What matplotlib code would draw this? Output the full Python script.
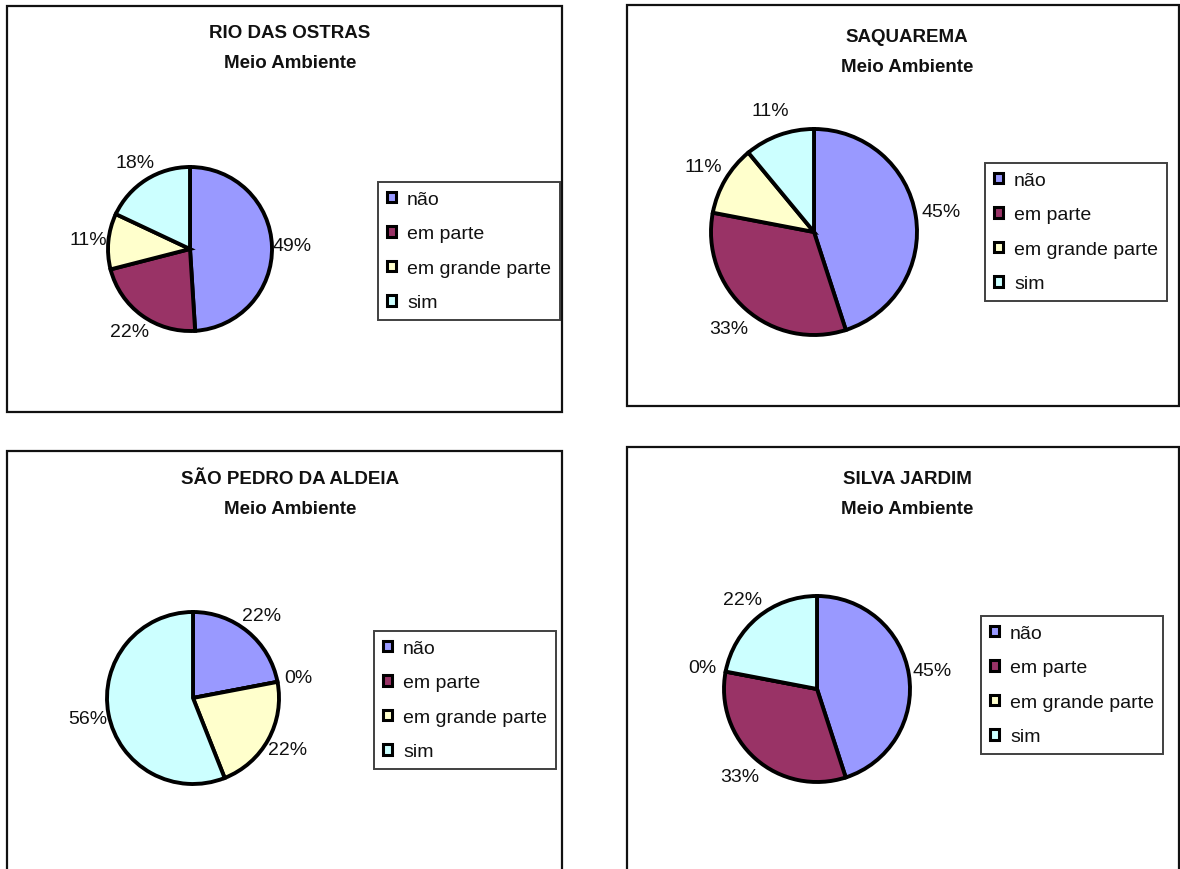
"""Meio Ambiente - quatro municípios, gráficos de pizza no estilo Excel."""
import matplotlib
matplotlib.use("Agg")
import matplotlib.pyplot as plt
import matplotlib.patches as mpatches

W, H = 1180, 870

CATEGORIAS = ["não", "em parte", "em grande parte", "sim"]
CORES = ["#9999FF", "#993366", "#FFFFCC", "#CCFFFF"]

MUNICIPIOS = ["RIO DAS OSTRAS", "SAQUAREMA", "SÃO PEDRO DA ALDEIA", "SILVA JARDIM"]
SUBTITULO = "Meio Ambiente"

RIO_DAS_OSTRAS = [49, 22, 11, 18]
SAQUAREMA = [45, 33, 11, 11]
SAO_PEDRO = [22, 0, 22, 56]
SILVA_JARDIM = [45, 33, 0, 22]

# layout in pixels: panel box, pie center/radius, legend top-left, title x/y
PANEIS = [
    dict(box=(7, 7, 562, 413), pie=(190, 250, 82), leg=(378, 183), tit=(290, 33)),
    dict(box=(627, 6, 1179, 407), pie=(814, 233, 103), leg=(985, 164), tit=(907, 37)),
    dict(box=(7, 452, 562, 880), pie=(193, 699, 86), leg=(374, 632), tit=(290, 480)),
    dict(box=(627, 448, 1179, 880), pie=(817, 690, 93), leg=(981, 617), tit=(907, 480)),
]

C_INK = "#111111"
FONT = ["Liberation Sans", "DejaVu Sans"]

plt.rcParams.update({
    "font.family": FONT,
    "font.size": 14,
    "text.color": C_INK,
})


def fx(x):
    return x / W


def fy(y):
    return 1 - y / H


def draw_panel(fig, nome, valores, lay):
    x0, y0, x1, y1 = lay["box"]
    fig.add_artist(mpatches.Rectangle(
        (fx(x0), fy(y1)), (x1 - x0) / W, (y1 - y0) / H,
        transform=fig.transFigure, fill=False, edgecolor=C_INK,
        linewidth=1.6, zorder=1))

    tx, ty = lay["tit"]
    fig.text(fx(tx), fy(ty), nome, ha="center", va="center",
             fontsize=13.5, fontweight="bold")
    fig.text(fx(tx), fy(ty + 30), SUBTITULO, ha="center", va="center",
             fontsize=13.5, fontweight="bold")

    cx, cy, r = lay["pie"]
    pad = 1.1
    rr = r * pad
    ax = fig.add_axes([fx(cx - rr), fy(cy + rr), 2 * rr / W, 2 * rr / H])
    wedges, texts, autotexts = ax.pie(
        valores, colors=CORES, startangle=90, counterclock=False,
        autopct=lambda p: f"{p:.0f}%", pctdistance=1.25,
        wedgeprops=dict(edgecolor="black", linewidth=2.8),
        textprops=dict(fontsize=14, color=C_INK))
    for w in wedges:
        w.set_clip_on(False)
    ax.set_xlim(-pad, pad)
    ax.set_ylim(-pad, pad)
    ax.axis("off")

    handles = [mpatches.Patch(facecolor=c, edgecolor="black", linewidth=2.2, label=l)
               for c, l in zip(CORES, CATEGORIAS)]
    lx, ly = lay["leg"]
    leg = fig.legend(handles=handles, loc="upper left",
                     bbox_to_anchor=(fx(lx), fy(ly)), bbox_transform=fig.transFigure,
                     borderaxespad=0, fancybox=False, frameon=True,
                     handlelength=0.45, handleheight=0.45, handletextpad=0.6,
                     labelspacing=0.9, borderpad=0.45, fontsize=14)
    leg.get_frame().set_edgecolor(C_INK)
    leg.get_frame().set_linewidth(1.4)


def main():
    fig = plt.figure(figsize=(W / 100, H / 100), dpi=100)
    fig.patch.set_facecolor("white")
    dados = [RIO_DAS_OSTRAS, SAQUAREMA, SAO_PEDRO, SILVA_JARDIM]
    for nome, valores, lay in zip(MUNICIPIOS, dados, PANEIS):
        draw_panel(fig, nome, valores, lay)
    fig.savefig("out.png", dpi=100, facecolor="white")
    plt.close(fig)


if __name__ == "__main__":
    main()
